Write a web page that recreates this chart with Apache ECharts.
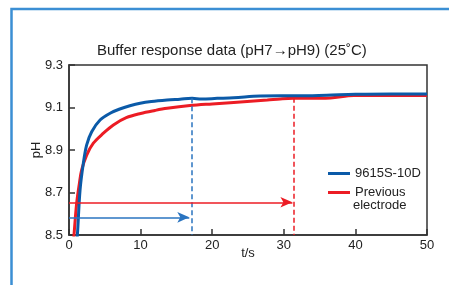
<!DOCTYPE html>
<html>
<head>
<meta charset="utf-8">
<script src="https://cdn.jsdelivr.net/npm/echarts@6/dist/echarts.min.js"></script>
<style>
  html, body { margin: 0; padding: 0; background: #fff; }
  #chart { width: 449px; height: 285px; }
</style>
</head>
<body>
<div id="chart"></div>
<script>
// 9615S-10D
const newTime = [1.0, 1.17, 1.54, 2.0, 2.47, 3.17, 4.34, 5.74, 7.1, 8.5, 9.94, 11.5, 13.7, 15.5, 17.2, 18.5, 20.7, 23, 26.7, 29.5, 32, 36, 40, 45, 50]
const newPH = [8.45, 8.5, 8.71, 8.837, 8.924, 8.986, 9.041, 9.073, 9.093, 9.108, 9.12, 9.128, 9.135, 9.139, 9.143, 9.14, 9.143, 9.146, 9.154, 9.155, 9.155, 9.158, 9.162, 9.164, 9.164]
// previous electrode
const oldTime = [0.6, 0.7, 1.07, 1.45, 1.77, 2.47, 3.4, 4.8, 6.2, 8.0, 10, 12, 13.7, 16.9, 20, 23, 27.7, 29.5, 31.4, 33, 36.5, 39.8, 45, 50]
const oldPH = [8.45, 8.5, 8.65, 8.743, 8.806, 8.876, 8.932, 8.979, 9.018, 9.052, 9.072, 9.086, 9.096, 9.109, 9.117, 9.124, 9.135, 9.14, 9.143, 9.143, 9.145, 9.156, 9.156, 9.156]

const seriesNames = ['9615S-10D', 'Previous electrode']
// response time markers: [arrow end t, arrow pH, dashed line t, dashed top pH]
const newMark = [16.8, 8.583, 17.2, 9.143]
const oldMark = [31.2, 8.654, 31.4, 9.146]

const blue = '#0b5aa8'
const red = '#ec1c24'

function pairs(xs, ys) {
  return xs.map((x, i) => [x, ys[i]])
}

function marks(m, color) {
  return {
    silent: true,
    symbol: ['none', 'none'],
    label: { show: false },
    data: [
      [
        { coord: [0, m[1]], symbol: 'none', lineStyle: { color: color, width: 1.5, type: 'solid' } },
        { coord: [m[0], m[1]], symbol: 'arrow', symbolSize: [8, 12] }
      ],
      [
        { coord: [m[2], m[3]], lineStyle: { color: color, width: 1.5, type: [5, 3] } },
        { coord: [m[2], 8.5] }
      ]
    ]
  }
}

const legendBase = {
  orient: 'vertical',
  left: 323,
  itemWidth: 22,
  itemHeight: 3,
  itemGap: 3,
  icon: 'rect',
  textStyle: { fontSize: 13, color: '#222' }
}

let chart = echarts.init(document.getElementById('chart'))
chart.setOption({
  animation: false,
  textStyle: { fontFamily: 'Liberation Sans, Arial, sans-serif' },
  title: {
    text: 'Buffer response data (pH7\u2192pH9) (25\u02DAC)',
    left: 92,
    top: 38,
    textStyle: { fontSize: 15, fontWeight: 'normal', color: '#222' }
  },
  graphic: [
    {
      type: 'polyline',
      shape: { points: [[11.5, 285], [11.5, 9], [449, 9]] },
      style: { stroke: '#3b8fd4', lineWidth: 2.5, fill: 'none' }
    },
    {
      type: 'text',
      left: 353,
      top: 199,
      style: { text: 'electrode', fontSize: 13, fill: '#222', fontFamily: 'Liberation Sans, Arial, sans-serif' }
    }
  ],
  legend: [
    Object.assign({ data: [seriesNames[0]], top: 162 }, legendBase),
    Object.assign({ data: [seriesNames[1]], top: 181, formatter: name => name.split(' ')[0] }, legendBase)
  ],
  grid: {
    left: 69, right: 22, top: 65, bottom: 50,
    show: true, borderColor: '#333', borderWidth: 1.5
  },
  xAxis: {
    type: 'value',
    min: 0, max: 50, interval: 10,
    name: 't/s',
    nameLocation: 'middle',
    nameGap: 12,
    nameMoveOverlap: false,
    nameTextStyle: { fontSize: 13, color: '#222', verticalAlign: 'top' },
    axisLine: { lineStyle: { color: '#333', width: 1.5 } },
    axisTick: { inside: true, length: 6, lineStyle: { color: '#333', width: 1.5 } },
    axisLabel: { fontSize: 13, color: '#222', margin: 4 },
    splitLine: { show: false }
  },
  yAxis: {
    type: 'value',
    min: 8.5, max: 9.3, interval: 0.2,
    name: 'pH',
    nameLocation: 'middle',
    nameGap: 26,
    nameMoveOverlap: false,
    nameTextStyle: { fontSize: 13, color: '#222' },
    axisLine: { lineStyle: { color: '#333', width: 1.5 } },
    axisTick: { inside: true, length: 6, lineStyle: { color: '#333', width: 1.5 } },
    axisLabel: { fontSize: 13, color: '#222', margin: 6, formatter: v => v.toFixed(1) },
    splitLine: { show: false }
  },
  series: [
    {
      name: seriesNames[0],
      type: 'line',
      data: pairs(newTime, newPH),
      smooth: 0.35,
      showSymbol: false,
      clip: true,
      color: blue,
      lineStyle: { width: 3, color: blue },
      z: 3,
      markLine: marks(newMark, '#2a74c0')
    },
    {
      name: seriesNames[1],
      type: 'line',
      data: pairs(oldTime, oldPH),
      smooth: 0.35,
      showSymbol: false,
      clip: true,
      color: red,
      lineStyle: { width: 3, color: red },
      z: 2,
      markLine: marks(oldMark, red)
    }
  ]
})
window.addEventListener('resize', () => {
  chart.resize()
})
</script>
</body>
</html>
